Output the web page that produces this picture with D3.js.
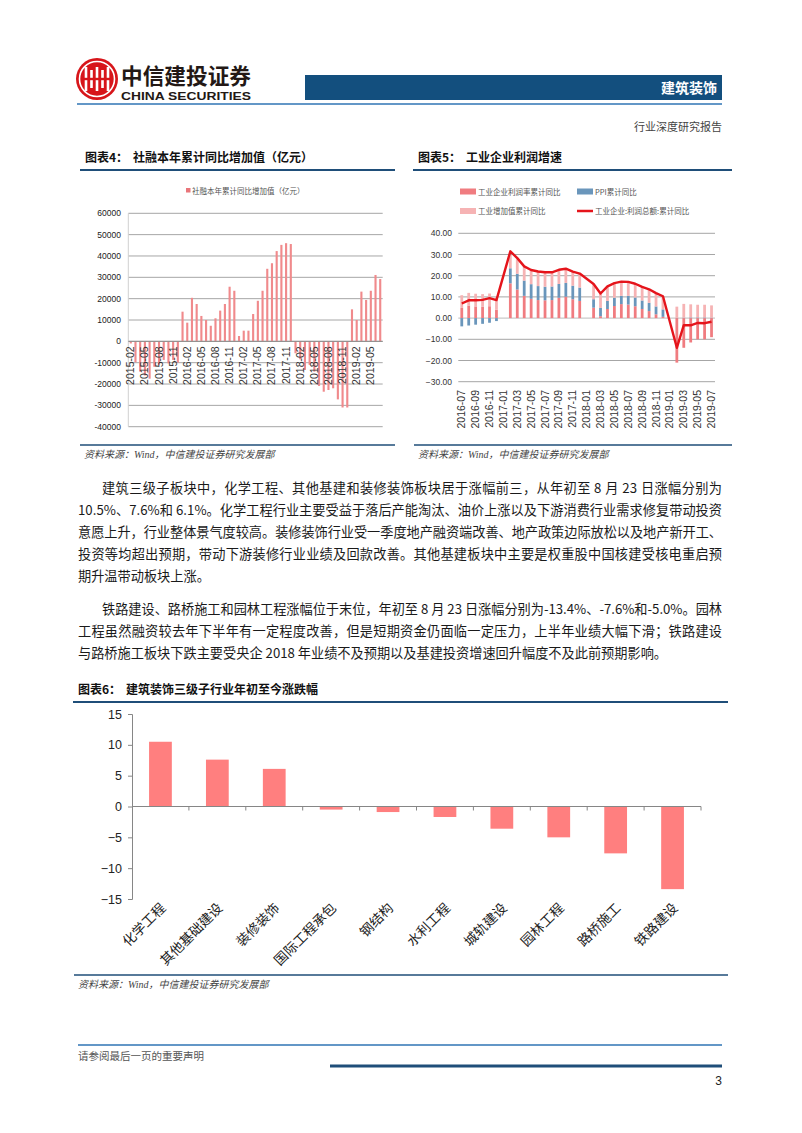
<!DOCTYPE html>
<html><head><meta charset="utf-8">
<script src="https://cdn.jsdelivr.net/npm/d3@7"></script>
<style>body{margin:0;background:#fff}svg{display:block}</style>
</head><body><svg id="page" width="802" height="1133"></svg>
<script>
// ---------- Chart 4 data ----------
const sfMonths = ["2015-02","2015-03","2015-04","2015-05","2015-06","2015-07","2015-08","2015-09","2015-10","2015-11","2015-12",
"2016-01","2016-02","2016-03","2016-04","2016-05","2016-06","2016-07","2016-08","2016-09","2016-10","2016-11","2016-12",
"2017-01","2017-02","2017-03","2017-04","2017-05","2017-06","2017-07","2017-08","2017-09","2017-10","2017-11","2017-12",
"2018-01","2018-02","2018-03","2018-04","2018-05","2018-06","2018-07","2018-08","2018-09","2018-10","2018-11","2018-12",
"2019-01","2019-02","2019-03","2019-04","2019-05","2019-06","2019-07"];
const sfValues = [-1000,-9800,-14200,-16000,-17500,-11900,-11000,-8700,-10300,-8700,-10000,
13900,8750,20400,17500,11900,10000,7300,10800,14400,17500,25600,23700,
2500,5000,5000,12800,19000,23700,34000,36600,42300,45200,46000,45600,
-5600,-8400,-13400,-11000,-14200,-20900,-23600,-22800,-22000,-27200,-31000,-31000,
15000,10000,23300,19400,23700,31100,29200];
const sfTicks = [60000,50000,40000,30000,20000,10000,0,-10000,-20000,-30000,-40000];
const sfLegend = "社融本年累计同比增加值（亿元）";

// ---------- Chart 5 data ----------
const ipMonths = ["2016-07","2016-08","2016-09","2016-10","2016-11","2016-12",
"2017-01","2017-02","2017-03","2017-04","2017-05","2017-06","2017-07","2017-08","2017-09","2017-10","2017-11","2017-12",
"2018-01","2018-02","2018-03","2018-04","2018-05","2018-06","2018-07","2018-08","2018-09","2018-10","2018-11","2018-12",
"2019-01","2019-02","2019-03","2019-04","2019-05","2019-06","2019-07"];
const marginYoY = [4.8,5.9,5.5,5.3,5.6,3.9,null,16.4,13.5,10.5,9.1,8.5,8.4,8.5,9.6,10.1,8.9,8.1,null,4.9,0.9,4.3,5.7,6.6,6.4,5.6,4.3,3.3,1.8,0.6,null,-21.0,-14.0,-11.5,-10.0,-10.0,-9.0];
const ppiYoY = [-3.9,-3.5,-3.1,-2.7,-2.2,-1.4,null,7.1,7.4,7.2,6.9,6.6,6.4,6.4,6.5,6.5,6.4,6.3,null,4.0,3.9,3.8,3.9,3.9,4.1,4.1,4.0,3.9,3.7,3.5,null,0.1,0.2,0.3,0.3,0.3,0.2];
const ivaYoY = [6.0,6.0,6.0,6.0,6.0,6.0,null,6.3,6.8,6.7,6.7,6.9,6.8,6.7,6.7,6.7,6.6,6.6,null,7.2,6.8,6.9,6.9,6.7,6.6,6.5,6.4,6.4,6.3,6.2,null,5.3,6.5,6.2,6.0,6.0,5.8];
const profitYoY = [6.9,8.4,8.4,8.6,9.4,8.5,null,31.5,28.3,24.4,22.7,22.0,21.6,21.6,22.8,23.3,21.9,21.0,null,16.1,11.6,15.0,16.5,17.2,17.1,16.2,14.7,13.6,11.8,10.3,null,-14.0,-3.3,-3.4,-2.3,-2.4,-1.7];
const ipTicks = [40,30,20,10,0,-10,-20,-30];
const ipSeriesNames = ["工业企业利润率累计同比","PPI累计同比","工业增加值累计同比","工业企业:利润总额:累计同比"];

// ---------- Chart 6 data ----------
const subCats = ["化学工程","其他基础建设","装修装饰","国际工程承包","钢结构","水利工程","城轨建设","园林工程","路桥施工","铁路建设"];
const subValues = [10.5,7.6,6.1,-0.5,-0.9,-1.7,-3.6,-5.0,-7.6,-13.4];
const subTicks = [15,10,5,0,-5,-10,-15];

// ---------- text ----------
const para1 = [
 "建筑三级子板块中，化学工程、其他基建和装修装饰板块居于涨幅前三，从年初至 8 月 23 日涨幅分别为",
 "10.5%、7.6%和 6.1%。化学工程行业主要受益于落后产能淘汰、油价上涨以及下游消费行业需求修复带动投资",
 "意愿上升，行业整体景气度较高。装修装饰行业受一季度地产融资端改善、地产政策边际放松以及地产新开工、",
 "投资等均超出预期，带动下游装修行业业绩及回款改善。其他基建板块中主要是权重股中国核建受核电重启预",
 "期升温带动板块上涨。"];
const para2 = [
 "铁路建设、路桥施工和园林工程涨幅位于末位，年初至 8 月 23 日涨幅分别为-13.4%、-7.6%和-5.0%。园林",
 "工程虽然融资较去年下半年有一定程度改善，但是短期资金仍面临一定压力，上半年业绩大幅下滑；铁路建设",
 "与路桥施工板块下跌主要受央企 2018 年业绩不及预期以及基建投资增速回升幅度不及此前预期影响。"];

const CJK = "'Noto Sans CJK SC','Noto Sans',sans-serif";
const SANS = "'Liberation Sans',Arial,'Noto Sans CJK SC',sans-serif";
const SERIF = "'Liberation Serif','Noto Sans CJK SC',serif";
const NAVY = "#1f4e79";

const svg = d3.select("#page");

// ---------- header ----------
const logo = svg.append("g").attr("transform","translate(97,79)");
logo.append("circle").attr("r",21).attr("fill","#d7151a");
logo.append("circle").attr("r",17.5).attr("fill","none").attr("stroke","#fff").attr("stroke-width",1.6);
[-11,-5.5,0,5.5,11].forEach((dx,i)=>{
  logo.append("rect").attr("x",dx-1.3).attr("y",-12+ (i%2?3:0)).attr("width",2.6).attr("height",24-(i%2?6:0)).attr("fill","#fff");
});
logo.append("rect").attr("x",-13).attr("y",-1.2).attr("width",26).attr("height",2.4).attr("fill","#d7151a");
svg.append("text").attr("x",121).attr("y",84).attr("font-family",CJK).attr("font-weight","bold")
  .attr("font-size",22).attr("fill","#231815").attr("textLength",130).attr("lengthAdjust","spacingAndGlyphs").text("中信建投证券");
svg.append("text").attr("x",121).attr("y",100).attr("font-family",SANS).attr("font-weight","bold")
  .attr("font-size",11).attr("fill","#231815").attr("textLength",130).attr("lengthAdjust","spacingAndGlyphs").text("CHINA SECURITIES");
svg.append("rect").attr("x",305).attr("y",75).attr("width",417).attr("height",25).attr("fill","#134f7e");
svg.append("text").attr("x",717).attr("y",93).attr("text-anchor","end").attr("font-family",CJK).attr("font-weight","bold")
  .attr("font-size",14).attr("fill","#fff").text("建筑装饰");
svg.append("line").attr("x1",77).attr("x2",722).attr("y1",104).attr("y2",104).attr("stroke","#2f75b5").attr("stroke-width",1.5);
svg.append("text").attr("x",722).attr("y",131).attr("text-anchor","end").attr("font-family",CJK)
  .attr("font-size",11).attr("fill","#444").text("行业深度研究报告");

// ---------- helpers ----------
function title(x,y,label,txt,x2){
  const t = svg.append("text").attr("x",x).attr("y",y).attr("font-family",CJK).attr("font-weight","bold").attr("font-size",12).attr("fill","#111");
  t.append("tspan").text(label);
  t.append("tspan").attr("x",x+48).text(txt);
  svg.append("line").attr("x1",x-5).attr("x2",x2).attr("y1",y+8).attr("y2",y+8).attr("stroke",NAVY).attr("stroke-width",2);
}
function source(x,y,x2){
  svg.append("line").attr("x1",x-4).attr("x2",x2).attr("y1",y-13).attr("y2",y-13).attr("stroke",NAVY).attr("stroke-width",1.5);
  svg.append("text").attr("x",x).attr("y",y).attr("font-family",SERIF).attr("font-style","italic")
    .attr("font-size",10).attr("fill","#444").text("资料来源：Wind，中信建投证券研究发展部");
}

// ---------- Chart 4 ----------
title(85,162,"图表4：","社融本年累计同比增加值（亿元）",395);
const x4 = d3.scaleBand().domain(sfMonths).range([128.3,382.7]).paddingInner(0.55).paddingOuter(0.3);
const y4 = d3.scaleLinear().domain([-40000,60000]).range([426.7,213.3]);
const g4 = svg.append("g");
g4.selectAll("line.grid").data(sfTicks).join("line").attr("x1",128.3).attr("x2",382.7)
  .attr("y1",d=>y4(d)).attr("y2",d=>y4(d)).attr("stroke","#a6a6a6").attr("stroke-width",1);
g4.append("line").attr("x1",128.3).attr("x2",128.3).attr("y1",y4(60000)).attr("y2",y4(-40000)).attr("stroke","#d0d0d0");
g4.selectAll("text.yl").data(sfTicks).join("text").attr("x",121).attr("y",d=>y4(d)+3).attr("text-anchor","end")
  .attr("font-family",SANS).attr("font-size",8.5).attr("fill","#222").text(d=>d);
g4.selectAll("rect.bar").data(sfValues).join("rect")
  .attr("x",(d,i)=>x4(sfMonths[i])).attr("width",x4.bandwidth())
  .attr("y",d=>y4(Math.max(0,d))).attr("height",d=>Math.abs(y4(d)-y4(0))).attr("fill","#f08a8c");
g4.append("line").attr("x1",128.3).attr("x2",382.7).attr("y1",y4(0)).attr("y2",y4(0)).attr("stroke","#8c8c8c");
g4.selectAll("text.xl").data(sfMonths.filter((d,i)=>i%3===0)).join("text")
  .attr("transform",d=>`translate(${x4(d)+x4.bandwidth()/2+3.5},${y4(0)+5}) rotate(-90)`)
  .attr("text-anchor","end").attr("font-family",SANS).attr("font-size",10.5).attr("fill","#333").text(d=>d);
g4.append("rect").attr("x",186).attr("y",188).attr("width",4.5).attr("height",4.5).attr("fill","#e9757a");
g4.append("text").attr("x",192).attr("y",194).attr("font-family",CJK).attr("font-size",7.5).attr("fill","#555").text(sfLegend);
source(84,458,395);

// ---------- Chart 5 ----------
title(418,162,"图表5：","工业企业利润增速",732);
const x5 = d3.scaleBand().domain(ipMonths).range([458.3,715]).paddingInner(0.6).paddingOuter(0.3);
const y5 = d3.scaleLinear().domain([-30,40]).range([381.7,233.3]);
const g5 = svg.append("g");
g5.selectAll("line.grid").data(ipTicks).join("line").attr("x1",458.3).attr("x2",715)
  .attr("y1",d=>y5(d)).attr("y2",d=>y5(d)).attr("stroke",d=>d===0?"#bdbdbd":"#a6a6a6").attr("stroke-width",1);
g5.selectAll("text.yl").data(ipTicks).join("text").attr("x",452).attr("y",d=>y5(d)+3).attr("text-anchor","end")
  .attr("font-family",SANS).attr("font-size",8.5).attr("fill","#333").text(d=>d3.format(".2f")(d));
const rows5 = ipMonths.map((m,i)=>({m, a:marginYoY[i]??0, b:ppiYoY[i]??0, c:ivaYoY[i]??0, ok: marginYoY[i]!=null}));
const stack5 = d3.stack().keys(["a","b","c"]).offset(d3.stackOffsetDiverging)(rows5);
const cols5 = ["#f07c80","#6a96bb","#f6b3b4"];
stack5.forEach((s,k)=>{
  g5.selectAll(null).data(s.filter(d=>d.data.ok)).join("rect")
    .attr("x",d=>x5(d.data.m)).attr("width",x5.bandwidth())
    .attr("y",d=>y5(Math.max(d[0],d[1]))).attr("height",d=>Math.abs(y5(d[0])-y5(d[1])))
    .attr("fill",cols5[k]);
});
const linePts = ipMonths.map((m,i)=>({m,v:profitYoY[i]})).filter(d=>d.v!=null);
g5.append("path").datum(linePts).attr("fill","none").attr("stroke","#e5141b").attr("stroke-width",2.4)
  .attr("stroke-linejoin","round")
  .attr("d",d3.line().x(d=>x5(d.m)+x5.bandwidth()/2).y(d=>y5(d.v)));
g5.selectAll("text.xl").data(ipMonths.filter((d,i)=>i%2===0)).join("text")
  .attr("transform",d=>`translate(${x5(d)+x5.bandwidth()/2+3.5},${390}) rotate(-90)`)
  .attr("text-anchor","end").attr("font-family",SANS).attr("font-size",10.5).attr("fill","#333").text(d=>d);
// legend
const lg = [[460,191.5,0,"rect"],[577,191.5,1,"rect"],[460,211,2,"rect"],[577,211,3,"line"]];
const lgCols = ["#f07c80","#6a96bb","#f6b3b4","#e5141b"];
lg.forEach(([lx,ly,k,type])=>{
  if(type==="rect") g5.append("rect").attr("x",lx).attr("y",ly-3).attr("width",16).attr("height",6).attr("fill",lgCols[k]);
  else g5.append("line").attr("x1",lx).attr("x2",lx+16).attr("y1",ly).attr("y2",ly).attr("stroke",lgCols[k]).attr("stroke-width",2.5);
  g5.append("text").attr("x",lx+18).attr("y",ly+3).attr("font-family",CJK).attr("font-size",7.5).attr("fill","#555").text(ipSeriesNames[k]);
});
source(418,458,732);

// ---------- Paragraphs ----------
function para(lines,y0,justifyCount){
  lines.forEach((s,i)=>{
    const x = i===0?102:78;
    const t = svg.append("text").attr("x",x).attr("y",y0+i*22).attr("font-family",CJK).attr("font-size",13.2).attr("fill","#1a1a1a").text(s);
    if(i<justifyCount) t.attr("textLength",722-x).attr("lengthAdjust","spacing");
  });
}
para(para1,493,4);
para(para2,614,2);

// ---------- Chart 6 ----------
title(78,694,"图表6：","建筑装饰三级子行业年初至今涨跌幅",728);
const x6 = d3.scaleBand().domain(subCats).range([132,701]).paddingInner(0.6).paddingOuter(0.3);
const y6 = d3.scaleLinear().domain([-15,15]).range([899,714]);
const g6 = svg.append("g");
g6.selectAll("rect").data(subValues).join("rect")
  .attr("x",(d,i)=>x6(subCats[i])).attr("width",x6.bandwidth())
  .attr("y",d=>y6(Math.max(0,d))).attr("height",d=>Math.abs(y6(d)-y6(0))).attr("fill","#ff7f7f");
const yAx = g6.append("g").attr("transform","translate(132,0)")
  .call(d3.axisLeft(y6).tickValues(subTicks).tickSize(4).tickPadding(6).tickFormat(d3.format("d")));
yAx.select(".domain").attr("stroke","#868686");
yAx.selectAll(".tick line").attr("stroke","#868686");
yAx.selectAll("text").attr("font-family",SANS).attr("font-size",12.5).attr("fill","#222");
g6.append("line").attr("x1",132).attr("x2",701).attr("y1",y6(0)).attr("y2",y6(0)).attr("stroke","#868686");
const step6 = x6.step();
g6.selectAll("line.tk").data(subCats).join("line")
  .attr("x1",d=>x6(d)-x6.paddingOuter()*step6+step6).attr("x2",d=>x6(d)-x6.paddingOuter()*step6+step6)
  .attr("y1",y6(0)).attr("y2",y6(0)+4).attr("stroke","#868686");
g6.selectAll("text.xl").data(subCats).join("text")
  .attr("transform",d=>`translate(${x6(d)+x6.bandwidth()/2+6},${909}) rotate(-45)`)
  .attr("text-anchor","end").attr("font-family",CJK).attr("font-size",13.5).attr("fill","#222").text(d=>d);
source(78,988,728);

// ---------- footer ----------
svg.append("line").attr("x1",78).attr("x2",722).attr("y1",1045).attr("y2",1045).attr("stroke","#2f75b5").attr("stroke-width",1.5);
svg.append("text").attr("x",78).attr("y",1060).attr("font-family",CJK).attr("font-size",10.5).attr("fill","#555").text("请参阅最后一页的重要声明");
svg.append("line").attr("x1",330).attr("x2",722).attr("y1",1066).attr("y2",1066).attr("stroke",NAVY).attr("stroke-width",3);
svg.append("text").attr("x",722).attr("y",1085).attr("text-anchor","end").attr("font-family",SANS).attr("font-size",12).attr("fill","#222").text("3");
</script></body></html>
